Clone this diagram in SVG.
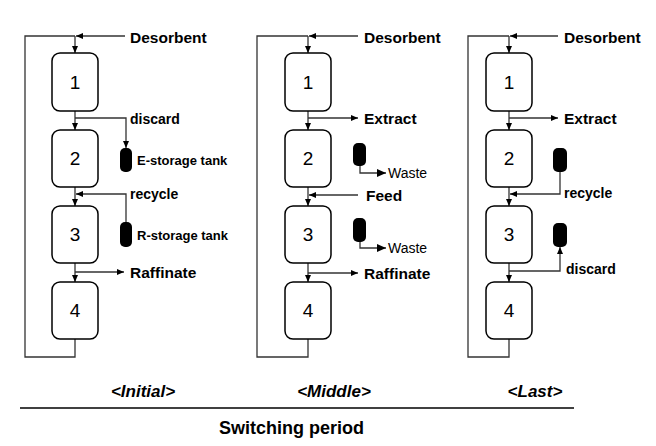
<svg xmlns="http://www.w3.org/2000/svg" width="656" height="446" viewBox="0 0 656 446">
<style>
.box{fill:#fff;stroke:#000;stroke-width:1.5}
.ln{fill:none;stroke:#333;stroke-width:1.3}
.tank{fill:#000}
.num{font-family:"Liberation Sans",Arial,sans-serif;font-size:19px;text-anchor:middle;fill:#000}
.lb{font-family:"Liberation Sans",Arial,sans-serif;font-size:15.5px;font-weight:bold;fill:#000}
.sm{font-family:"Liberation Sans",Arial,sans-serif;font-size:14px;font-weight:bold;fill:#000}
.tk{font-family:"Liberation Sans",Arial,sans-serif;font-size:13px;font-weight:bold;fill:#000}
.ws{font-family:"Liberation Sans",Arial,sans-serif;font-size:14px;fill:#000}
.ph{font-family:"Liberation Sans",Arial,sans-serif;font-size:17px;font-weight:bold;font-style:italic;text-anchor:middle;fill:#000}
</style>
<defs>
<marker id="a" markerWidth="7" markerHeight="6" refX="7" refY="3" orient="auto" markerUnits="userSpaceOnUse"><path d="M0,0 L7,3 L0,6 z" fill="#000"/></marker>
<marker id="b" markerWidth="9" markerHeight="8" refX="9" refY="4" orient="auto" markerUnits="userSpaceOnUse"><path d="M0,0 L9,4 L0,8 z" fill="#000"/></marker>
</defs>
<g id="connectors">
<!-- panel 1 -->
<path class="ln" d="M75,339 V357 H25 V36 H75"/>
<path class="ln" d="M125,36 H76" marker-end="url(#a)"/>
<path class="ln" d="M75,36 V53" marker-end="url(#a)"/>
<path class="ln" d="M75,111 V130" marker-end="url(#a)"/>
<path class="ln" d="M75,187 V206" marker-end="url(#a)"/>
<path class="ln" d="M75,263 V282" marker-end="url(#a)"/>
<path class="ln" d="M75,118 H126 V148" marker-end="url(#a)"/>
<path class="ln" d="M126,222 V194 H76" marker-end="url(#a)"/>
<path class="ln" d="M75,272 H124" marker-end="url(#a)"/>
<!-- panel 2 -->
<path class="ln" d="M308,339 V357 H257 V36 H308"/>
<path class="ln" d="M358,36 H309" marker-end="url(#a)"/>
<path class="ln" d="M308,36 V53" marker-end="url(#a)"/>
<path class="ln" d="M308,111 V130" marker-end="url(#a)"/>
<path class="ln" d="M308,187 V206" marker-end="url(#a)"/>
<path class="ln" d="M308,263 V282" marker-end="url(#a)"/>
<path class="ln" d="M308,118 H358" marker-end="url(#a)"/>
<path class="ln" d="M358,195 H309" marker-end="url(#a)"/>
<path class="ln" d="M308,273 H358" marker-end="url(#a)"/>
<path class="ln" d="M360,166 V173 H386" marker-end="url(#b)"/>
<path class="ln" d="M360,242 V248 H386" marker-end="url(#b)"/>
<!-- panel 3 -->
<path class="ln" d="M509,339 V357 H468 V36 H509"/>
<path class="ln" d="M558,36 H510" marker-end="url(#a)"/>
<path class="ln" d="M509,36 V53" marker-end="url(#a)"/>
<path class="ln" d="M509,111 V130" marker-end="url(#a)"/>
<path class="ln" d="M509,187 V206" marker-end="url(#a)"/>
<path class="ln" d="M509,263 V282" marker-end="url(#a)"/>
<path class="ln" d="M509,118 H558" marker-end="url(#a)"/>
<path class="ln" d="M560,172 V194 H510" marker-end="url(#a)"/>
<path class="ln" d="M509,271 H560 V247" marker-end="url(#a)"/>
</g>
<g id="p1-box1"><rect class="box" x="52" y="53" width="46" height="58" rx="8"/><text class="num" x="75" y="89">1</text></g>
<g id="p1-box2"><rect class="box" x="52" y="130" width="46" height="57" rx="8"/><text class="num" x="75" y="165">2</text></g>
<g id="p1-box3"><rect class="box" x="52" y="206" width="46" height="57" rx="8"/><text class="num" x="75" y="241">3</text></g>
<g id="p1-box4"><rect class="box" x="52" y="282" width="46" height="57" rx="8"/><text class="num" x="75" y="317">4</text></g>
<g id="p1-etank"><rect class="tank" x="120" y="148" width="12" height="24" rx="5"/></g>
<g id="p1-rtank"><rect class="tank" x="120" y="222" width="12" height="25" rx="5"/></g>
<g id="p1-labels">
<text class="lb" x="130" y="43">Desorbent</text>
<text class="sm" x="130" y="124">discard</text>
<text class="tk" x="137" y="165">E-storage tank</text>
<text class="sm" x="130" y="199">recycle</text>
<text class="tk" x="137" y="240">R-storage tank</text>
<text class="lb" x="130" y="278">Raffinate</text>
</g>
<g id="p2-box1"><rect class="box" x="285" y="53" width="46" height="58" rx="8"/><text class="num" x="308" y="89">1</text></g>
<g id="p2-box2"><rect class="box" x="285" y="130" width="46" height="57" rx="8"/><text class="num" x="308" y="165">2</text></g>
<g id="p2-box3"><rect class="box" x="285" y="206" width="46" height="57" rx="8"/><text class="num" x="308" y="241">3</text></g>
<g id="p2-box4"><rect class="box" x="285" y="282" width="46" height="57" rx="8"/><text class="num" x="308" y="317">4</text></g>
<g id="p2-tank1"><rect class="tank" x="353" y="143" width="13" height="23" rx="5"/></g>
<g id="p2-tank2"><rect class="tank" x="353" y="218" width="13" height="24" rx="5"/></g>
<g id="p2-labels">
<text class="lb" x="364" y="43">Desorbent</text>
<text class="lb" x="364" y="124">Extract</text>
<text class="ws" x="388" y="178">Waste</text>
<text class="lb" x="366" y="201">Feed</text>
<text class="ws" x="388" y="253">Waste</text>
<text class="lb" x="364" y="279">Raffinate</text>
</g>
<g id="p3-box1"><rect class="box" x="486" y="53" width="46" height="58" rx="8"/><text class="num" x="509" y="89">1</text></g>
<g id="p3-box2"><rect class="box" x="486" y="130" width="46" height="57" rx="8"/><text class="num" x="509" y="165">2</text></g>
<g id="p3-box3"><rect class="box" x="486" y="206" width="46" height="57" rx="8"/><text class="num" x="509" y="241">3</text></g>
<g id="p3-box4"><rect class="box" x="486" y="282" width="46" height="57" rx="8"/><text class="num" x="509" y="317">4</text></g>
<g id="p3-tank1"><rect class="tank" x="553" y="148" width="14" height="24" rx="5"/></g>
<g id="p3-tank2"><rect class="tank" x="553" y="223" width="14" height="24" rx="5"/></g>
<g id="p3-labels">
<text class="lb" x="564" y="43">Desorbent</text>
<text class="lb" x="564" y="124">Extract</text>
<text class="sm" x="564" y="198">recycle</text>
<text class="sm" x="566" y="274">discard</text>
</g>
<g id="footer">
<text class="ph" x="143" y="397">&lt;Initial&gt;</text>
<text class="ph" x="334" y="397">&lt;Middle&gt;</text>
<text class="ph" x="535" y="397">&lt;Last&gt;</text>
<line x1="20" y1="408" x2="574" y2="408" stroke="#000" stroke-width="1.5"/>
<text x="219" y="434" font-family="'Liberation Sans',Arial,sans-serif" font-size="18" font-weight="bold">Switching period</text>
</g>
</svg>
